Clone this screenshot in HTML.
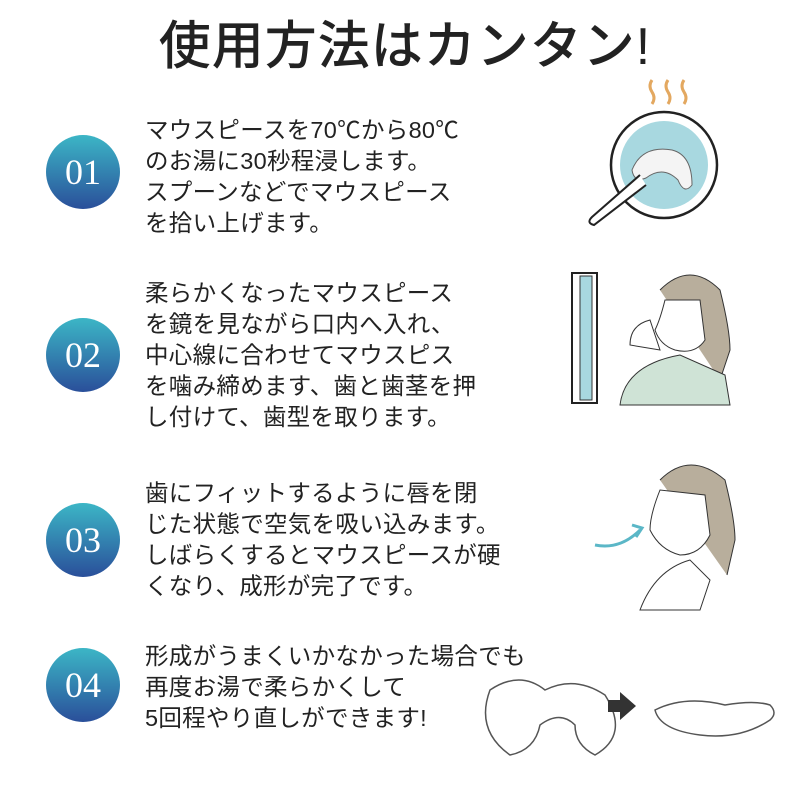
<!DOCTYPE html>
<html><head><meta charset="utf-8"><style>
body{margin:0;width:800px;height:800px;background:#fff;position:relative;overflow:hidden;font-family:"Liberation Sans","Noto Sans CJK JP",sans-serif;color:#222}
.t{position:absolute;left:0;top:4px;width:810px;text-align:center;font-size:52px;font-weight:500;letter-spacing:1px}
.c{position:absolute;width:74px;height:74px;border-radius:50%;background:linear-gradient(#3cb6c6,#2a4f9a);color:#fff;font-family:"Liberation Serif",serif;font-size:36px;text-align:center;line-height:74px;left:46px}
.p{position:absolute;left:145px;font-size:23.5px;line-height:31px;white-space:nowrap;letter-spacing:0.3px}
</style></head><body>
<div class="t">使用方法はカンタン!</div>
<div class="c" style="top:135px">01</div>
<div class="c" style="top:318px">02</div>
<div class="c" style="top:503px">03</div>
<div class="c" style="top:648px">04</div>
<div class="p" style="top:115px">マウスピースを70℃から80℃<br>のお湯に30秒程浸します。<br>スプーンなどでマウスピース<br>を拾い上げます。</div>
<div class="p" style="top:278px">柔らかくなったマウスピース<br>を鏡を見ながら口内へ入れ、<br>中心線に合わせてマウスピス<br>を噛み締めます、歯と歯茎を押<br>し付けて、歯型を取ります。</div>
<div class="p" style="top:478px">歯にフィットするように唇を閉<br>じた状態で空気を吸い込みます。<br>しばらくするとマウスピースが硬<br>くなり、成形が完了です。</div>
<div class="p" style="top:641px">形成がうまくいかなかった場合でも<br>再度お湯で柔らかくして<br>5回程やり直しができます!</div>
<svg style="position:absolute;left:0;top:0" width="800" height="800">
<g fill="none" stroke="#e3a860" stroke-width="3"><path d="M652 80q-4 6 0 12t0 12"/><path d="M668 80q-4 6 0 12t0 12"/><path d="M684 80q-4 6 0 12t0 12"/></g>
<circle cx="664" cy="165" r="53" fill="#fff" stroke="#222" stroke-width="2.5"/>
<circle cx="664" cy="165" r="44" fill="#a8d8e0"/>
<path d="M632 170q10-25 40-20q20 5 20 35q-8 10-14-5q-15-15-32-2q-12 5-14-8z" fill="#f4f4f4" stroke="#666"/>
<path d="M640 175l-48 42q-6 6 2 8l52-40" fill="#fff" stroke="#222" stroke-width="2"/>
<rect x="572" y="273" width="25" height="130" fill="#fff" stroke="#222" stroke-width="2"/>
<rect x="580" y="276" width="12" height="124" fill="#a8d8e0" stroke="#333"/>
<path d="M660 290q30-30 60 0q10 40 10 60l-10 30" fill="#b8ae9c" stroke="#333"/>
<path d="M665 300q-5 20-10 30q5 15 20 20q20 5 30-10l-5-40z" fill="#fff" stroke="#333"/>
<path d="M620 405q5-40 60-50l45 20l5 30z" fill="#cfe3d6" stroke="#333"/>
<path d="M630 345q0-20 20-25l10 30z" fill="#fff" stroke="#333"/>
<path d="M660 480q30-30 65 0q10 40 10 60l-8 35" fill="#b8ae9c" stroke="#333"/>
<path d="M660 490q-10 25-10 40q10 20 30 25q20 0 30-20l-5-40z" fill="#fff" stroke="#333"/>
<path d="M640 610q15-40 50-50l20 20l-10 30z" fill="#fff" stroke="#333"/>
<path d="M595 545q25 5 45-15" fill="none" stroke="#5bb7c7" stroke-width="3"/>
<path d="M632 525l10 3l-6 9" fill="none" stroke="#5bb7c7" stroke-width="3"/>
<path d="M490 690q30-20 55 0q30-15 60 5q25 40-10 60q-20-10-20-30q-15-15-35 0q-5 25-30 30q-35-25-20-65z" fill="#fff" stroke="#555" stroke-width="1.5"/>
<path d="M608 700h12v-8l16 14l-16 14v-8h-12z" fill="#333"/>
<path d="M655 710q30-15 70-5q30-5 45 0q8 8 0 15q-30 20-70 15q-40-5-45-25z" fill="#fff" stroke="#555" stroke-width="1.5"/>
</svg>
</body></html>
